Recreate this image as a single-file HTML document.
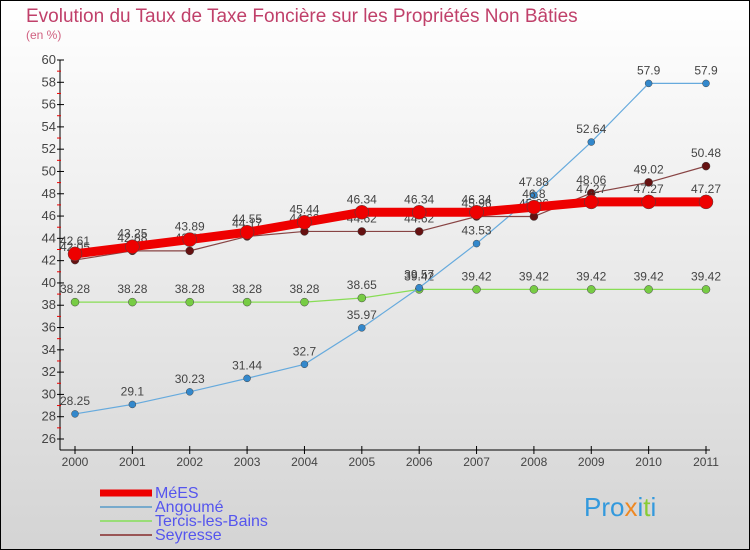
<!DOCTYPE html>
<html><head><meta charset="utf-8"><style>
body{margin:0}
svg{display:block;font-family:"Liberation Sans","DejaVu Sans",sans-serif}
</style></head><body>
<svg id="c" width="750" height="550">
<defs><linearGradient id="bg" x1="0" y1="0" x2="0" y2="1"><stop offset="0" stop-color="#ffffff"/><stop offset="1" stop-color="#d4d4d4"/></linearGradient></defs>
<rect x="0.5" y="0.5" width="749" height="549" fill="url(#bg)" stroke="#000"/>
<text x="26" y="22" font-size="19" fill="#c0406a">Evolution du Taux de Taxe Foncière sur les Propriétés Non Bâties</text>
<text x="26" y="39" font-size="12" fill="#d06080">(en %)</text>
<g id="axes"></g>
<g id="series"></g>
<g id="legend" font-size="16" fill="#5555ee"></g>
<text x="584" y="516" font-size="26" fill="#3399dd">Pro<tspan fill="#ee8822">x</tspan>i<tspan fill="#88cc33">t</tspan>i</text>
</svg>
<script>
const years=[2000,2001,2002,2003,2004,2005,2006,2007,2008,2009,2010,2011];
const seriesNames=["MéES","Angoumé","Tercis-les-Bains","Seyresse"];
const mees=[42.61,43.25,43.89,44.55,45.44,46.34,46.34,46.34,46.8,47.27,47.27,47.27];
const angoume=[28.25,29.1,30.23,31.44,32.7,35.97,39.57,43.53,47.88,52.64,57.9,57.9];
const tercis=[38.28,38.28,38.28,38.28,38.28,38.65,39.42,39.42,39.42,39.42,39.42,39.42];
const seyresse=[42.05,42.88,42.88,44.17,44.62,44.62,44.62,45.96,45.96,48.06,49.02,50.48];
const yTicks=[26,28,30,32,34,36,38,40,42,44,46,48,50,52,54,56,58,60];
const NS="http://www.w3.org/2000/svg";
const X=i=>75+i*(706-75)/11;
const Y=v=>439-(v-26)*(439-60)/34;
function mk(t,a,p){const e=document.createElementNS(NS,t);for(const k in a)e.setAttribute(k,a[k]);p.appendChild(e);return e;}
const ax=document.getElementById('axes');
const yl=mk('line',{x1:60,y1:60,x2:60,y2:450,stroke:'#000'},ax);


const xl=mk('line',{x1:60,y1:450,x2:710,y2:450,stroke:'#000'},ax);


yTicks.forEach(v=>{
 mk('line',{x1:57,y1:Y(v),x2:64,y2:Y(v),stroke:'#000'},ax);
 if(v<60)mk('line',{x1:57,y1:Y(v+1),x2:61,y2:Y(v+1),stroke:'#e00'},ax);
 const t=mk('text',{x:56,y:Y(v)+4,'text-anchor':'end','font-size':13,fill:'#444'},ax);t.textContent=v;
 
 
});
years.forEach((y,i)=>{
 mk('line',{x1:X(i),y1:446,x2:X(i),y2:454,stroke:'#000'},ax);
 const t=mk('text',{x:X(i),y:466,'text-anchor':'middle','font-size':12,fill:'#444'},ax);t.textContent=y;
 
 
});
const sg=document.getElementById('series');
const defs=[
 {d:tercis,c:'#88dd55',w:1.2,r:4,f:'#77cc44',n:'tercis'},
 {d:angoume,c:'#66aadd',w:1.2,r:3.5,f:'#3388cc',n:'angoume'},
 {d:seyresse,c:'#884444',w:1.2,r:4,f:'#661111',n:'seyresse'},
 {d:mees,c:'#ee0000',w:9,r:7,f:'#ee0000',n:'mees'}];
defs.forEach(s=>{
 const p=mk('polyline',{points:s.d.map((v,i)=>X(i)+','+Y(v)).join(' '),fill:'none',stroke:s.c,'stroke-width':s.w},sg);
 
 
 s.d.forEach((v,i)=>{
  const c=mk('circle',{cx:X(i),cy:Y(v),r:s.r,fill:s.f,stroke:'#444','stroke-width':0.5},sg);
  
  
  const t=mk('text',{x:X(i),y:Y(v)-9,'text-anchor':'middle','font-size':12,fill:'#444'},sg);t.textContent=v;
  
  
 });
});
const lg=document.getElementById('legend');
const lc=[['#ee0000',7],['#77aacc',2],['#99dd77',2],['#995555',2]];
seriesNames.forEach((n,i)=>{
 const y=493+i*14;
 const l=mk('line',{x1:100,y1:y,x2:152,y2:y,stroke:lc[i][0],'stroke-width':lc[i][1]},lg);
 
 
 const t=mk('text',{x:155,y:y+5},lg);t.textContent=n;
 
 
});
</script>
</body></html>
